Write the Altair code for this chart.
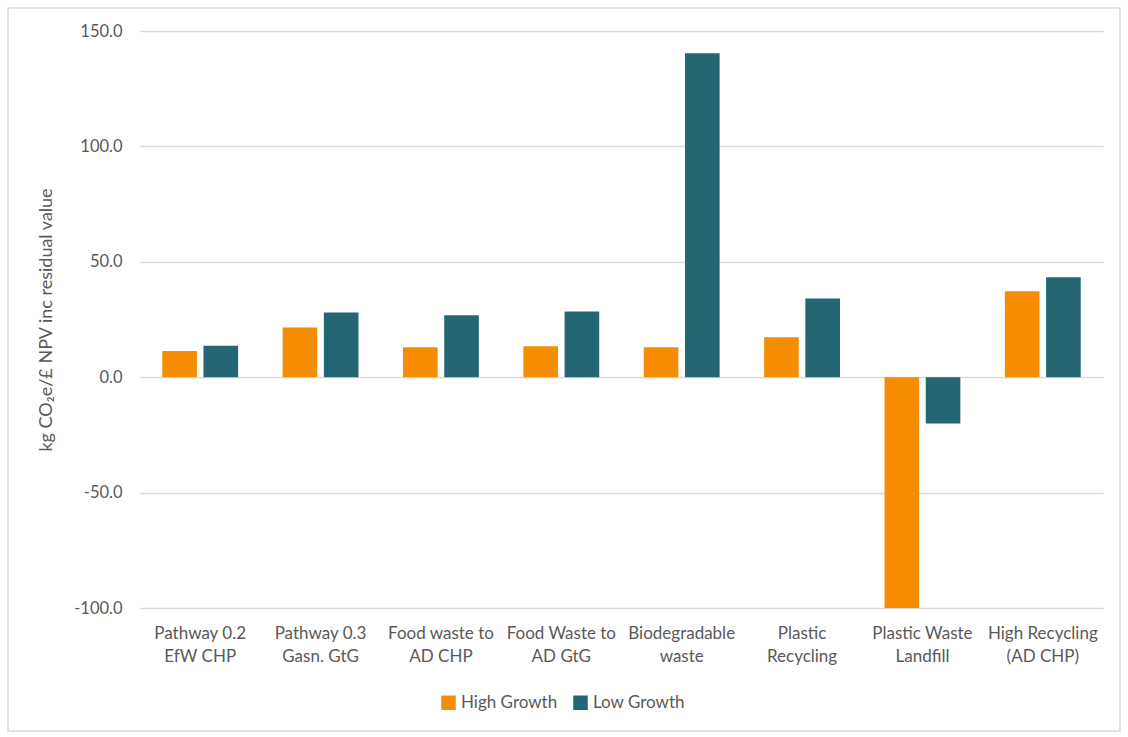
import altair as alt
import pandas as pd

# Categories (line breaks marked with "|")
categories = [
    "Pathway 0.2|EfW CHP",
    "Pathway 0.3|Gasn. GtG",
    "Food waste to|AD CHP",
    "Food Waste to|AD GtG",
    "Biodegradable|waste",
    "Plastic|Recycling",
    "Plastic Waste|Landfill",
    "High Recycling|(AD CHP)",
]
series = ["High Growth", "Low Growth"]
high_growth = [11.4, 21.5, 13.0, 13.4, 13.0, 17.3, -100.0, 37.2]
low_growth = [13.6, 28.0, 26.8, 28.5, 140.4, 34.1, -20.1, 43.3]
colors = ["#F68D00", "#246673"]
y_ticks = [-100, -50, 0, 50, 100, 150]

rows = []
for i, c in enumerate(categories):
    rows.append({"category": c, "series": series[0], "value": high_growth[i]})
    rows.append({"category": c, "series": series[1], "value": low_growth[i]})
df = pd.DataFrame(rows)

FONT = "Lato"
TEXT = "#595959"
GRID = "#D9D9D9"

W, H = 963, 577

bars = alt.Chart(df).mark_bar().encode(
    x=alt.X(
        "category:N",
        sort=categories,
        scale=alt.Scale(paddingInner=0.37, paddingOuter=0.185),
        axis=alt.Axis(
            title=None,
            labelAngle=0,
            labelExpr="split(datum.label, '|')",
            labelColor=TEXT,
            labelFont=FONT,
            labelFontSize=17,
            labelLineHeight=23,
            labelPadding=17,
            labelLimit=200,
            ticks=False,
            domain=False,
            grid=False,
        ),
    ),
    xOffset=alt.XOffset("series:N", sort=series, scale=alt.Scale(paddingInner=0.16)),
    y=alt.Y(
        "value:Q",
        scale=alt.Scale(domain=[-100, 150], nice=False),
        axis=alt.Axis(
            title="kg CO₂e/£ NPV inc residual value",
            titleColor=TEXT,
            titleFont=FONT,
            titleFontSize=18,
            titleFontWeight="normal",
            titlePadding=18,
            values=y_ticks,
            labelExpr="replace(format(datum.value, '.1f'), '\u2212', '-')",
            labelColor=TEXT,
            labelFont=FONT,
            labelFontSize=16.5,
            labelPadding=18,
            ticks=False,
            domain=False,
            gridColor=GRID,
            gridWidth=1.3,
        ),
    ),
    color=alt.Color(
        "series:N",
        sort=series,
        scale=alt.Scale(domain=series, range=colors),
        legend=alt.Legend(
            title=None,
            orient="none",
            legendX=300,
            legendY=663,
            direction="horizontal",
            symbolType="square",
            symbolSize=210,
            symbolStrokeWidth=0,
            labelColor=TEXT,
            labelFont=FONT,
            labelFontSize=17,
            columnPadding=14,
            labelOffset=4,
        ),
    ),
)

# Thin frame around the whole figure
frame = alt.Chart(pd.DataFrame({"a": [0]})).mark_rect(
    fill=None, stroke=GRID, strokeWidth=1.5
).encode(
    x=alt.value(-132),
    x2=alt.value(980),
    y=alt.value(-23),
    y2=alt.value(700),
)

chart = (
    alt.layer(frame, bars)
    .properties(
        width=W,
        height=H,
        padding={"left": 140, "top": 31, "right": 25, "bottom": 129},
        autosize=alt.AutoSizeParams(type="none"),
        background="white",
    )
    .configure_view(stroke=None)
)

chart.save("out.html", embed_options={"renderer": "svg", "actions": False})
